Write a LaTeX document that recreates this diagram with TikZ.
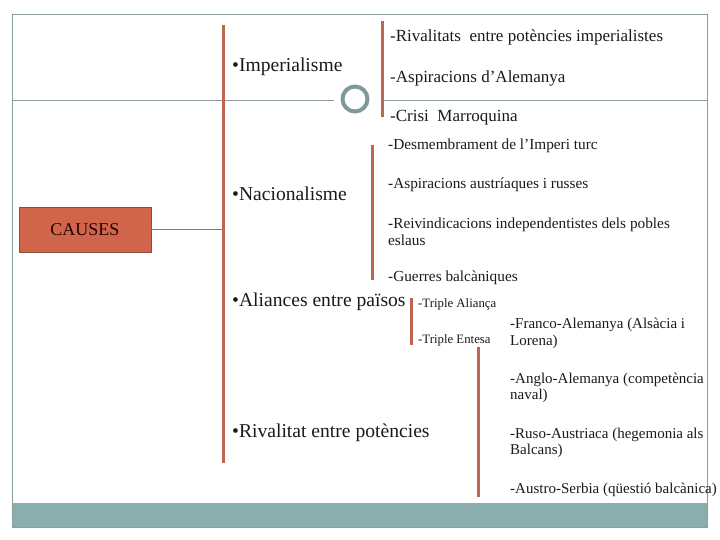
\documentclass[tikz,border=0pt]{standalone}
\usepackage{fontspec}
\setmainfont{Liberation Serif}
\usepackage{xcolor}
\usetikzlibrary{positioning, calc}
\definecolor{barred}{HTML}{C0654F}
\definecolor{boxred}{HTML}{D0654B}
\definecolor{bandteal}{HTML}{8AADAD}
\definecolor{ringgray}{HTML}{7E9999}
\definecolor{framegray}{HTML}{8C9C9C}
\definecolor{inktext}{HTML}{1A1A1A}
\tikzset{
  head/.style={anchor=west, inner sep=0pt, text=inktext,
               font=\fontsize{19.6}{22}\selectfont},
  item/.style={anchor=west, inner sep=0pt, text=inktext, align=left,
               font=\fontsize{17}{18}\selectfont},
  itemS/.style={item, font=\fontsize{15.3}{17}\selectfont},
  itemR/.style={item, font=\fontsize{15}{16.5}\selectfont},
  itemXS/.style={item, font=\fontsize{12.8}{14}\selectfont},
  bar/.style={draw=barred, line width=3pt},
  rule/.style={draw=framegray, line width=0.9pt},
  rootbox/.style={rectangle, draw=barred!75!black, fill=boxred,
                  minimum width=132pt, minimum height=45pt,
                  font=\fontsize{18}{20}\selectfont, text=black!85!red},
  ring/.style={circle, draw=ringgray, line width=4pt, fill=white,
               minimum size=25pt, inner sep=0pt},
}

\begin{document}
\begin{tikzpicture}[x=1pt, y=-1pt]
  \useasboundingbox (0,0) rectangle (720,540);

  % Frame, band and divider
  \fill[bandteal] (12,503) rectangle (707,527);
  \draw[rule] (12,14) rectangle (707,527);
  \node[ring] (ring) at (355,99) {};
  \coordinate (divL) at (12,100);
  \coordinate (divR) at (707,100);
  \draw[rule] (divL) -- ([xshift=-7pt]ring.west |- divL);
  \draw[rule] (382,100) -- (divR);

  % Bars
  \draw[bar] (223,25)  -- (223,463);
  \draw[bar] (382,21)  -- (382,117);
  \draw[bar] (372,145) -- (372,280);
  \draw[bar] (411,298) -- (411,345);
  \draw[bar] (478,347) -- (478,497);

  % Root
  \node[rootbox] (causes) at (85,229.5) {CAUSES};
  \coordinate (trunk) at (223,229.5);
  \draw[barred, line width=1pt] (causes) -- (trunk);

  % Main causes
  \node[head] (imper)  at (232,67)  {•Imperialisme};
  \node[head] (nacion) at (232,194) {•Nacionalisme};
  \node[head] (alian)  at (232,302) {•Aliances entre països};
  \node[head] (rival)  at (232,433) {•Rivalitat entre potències};

  % Imperialisme
  \node[item] (riv)    at (390,37)  {-Rivalitats\ \ entre potències imperialistes};
  \node[item] (aspal)  at (390,78)  {-Aspiracions d’Alemanya};
  \node[item] (crisi)  at (390,118) {-Crisi\ \ Marroquina};

  % Nacionalisme
  \node[itemS] (desm)  at (388,146) {-Desmembrament de l’Imperi turc};
  \node[itemS] (asp)   at (388,185) {-Aspiracions austríaques i russes};
  \node[itemS] (reiv)  at (388,231.5) {-Reivindicacions independentistes dels pobles\\eslaus};
  \node[itemS] (guer)  at (388,278) {-Guerres balcàniques};

  % Aliances
  \node[itemXS] (tali) at (418,304) {-Triple Aliança};
  \node[itemXS] (tent) at (418,340) {-Triple Entesa};

  % Rivalitat
  \node[itemR] (franco) at (510,333.5) {-Franco-Alemanya (Alsàcia i\\Lorena)};
  \node[itemR] (anglo)  at (510,388)   {-Anglo-Alemanya (competència\\naval)};
  \node[itemR] (ruso)   at (510,443)   {-Ruso-Austriaca (hegemonia als\\Balcans)};
  \node[itemR] (austro) at (510,490)   {-Austro-Serbia (qüestió balcànica)};

\end{tikzpicture}
\end{document}
